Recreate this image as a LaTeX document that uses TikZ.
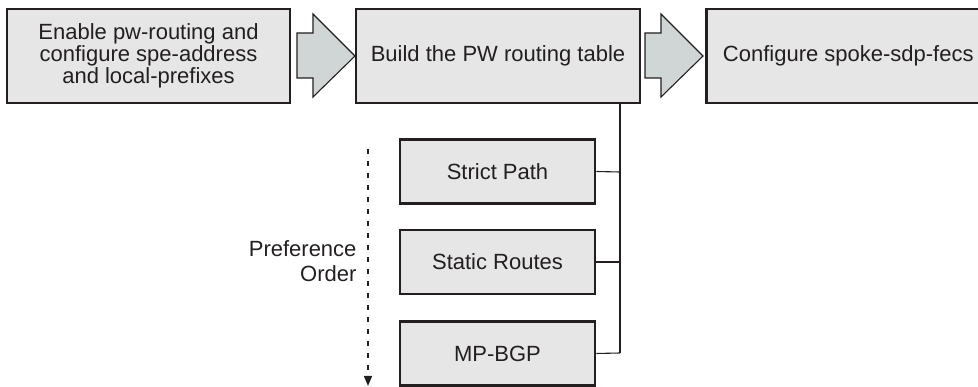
\documentclass[tikz,border=0pt]{standalone}
\usepackage{fontspec}
\setmainfont{Liberation Sans}
\usetikzlibrary{arrows.meta}
\definecolor{boxfill}{HTML}{E6E6E6}
\definecolor{arrfill}{HTML}{D0D6D6}
\definecolor{edge}{HTML}{231F20}
\begin{document}
\begin{tikzpicture}[x=1pt,y=-1pt,
  bigbox/.style={draw=edge,line width=2.6pt,fill=boxfill,align=center,text=edge,font=\fontsize{22}{22}\selectfont},
  smallbox/.style={draw=edge,line width=2.6pt,fill=boxfill,text=edge,font=\fontsize{22}{22}\selectfont},
  blockarrow/.style={draw=edge,line width=1.1pt,fill=arrfill,line join=miter},
  conn/.style={draw=edge,line width=1.1pt}]
\useasboundingbox (0,0) rectangle (978,387);
% main boxes
\node[bigbox,minimum width=283pt,minimum height=94pt] (b1) at (148.5,56) {Enable pw-routing and\\configure spe-address\\and local-prefixes};
\node[bigbox,minimum width=284pt,minimum height=94pt] (b2) at (498,56) {Build the PW routing table};
\node[bigbox,minimum width=284pt,minimum height=94pt,anchor=west] (b3) at (705,56) {Configure spoke-sdp-fecs};
% block arrows
\path[blockarrow] (297,33) -- (313,33) -- (313,14) -- (355,56) -- (313,97) -- (313,78) -- (297,78) -- cycle;
\path[blockarrow] (645,33) -- (661,33) -- (661,14) -- (703,56) -- (661,97) -- (661,78) -- (645,78) -- cycle;
% sub boxes
\node[smallbox,minimum width=195pt,minimum height=64pt] (s1) at (497.5,171.5) {Strict Path};
\node[smallbox,minimum width=195pt,minimum height=64pt] (s2) at (497.5,262) {Static Routes};
\node[smallbox,minimum width=195pt,minimum height=64pt] (s3) at (497.5,353.5) {MP-BGP};
\coordinate (top) at (620,103);
\coordinate (j1) at (620,172);
\coordinate (j2) at (620,262);
\coordinate (j3) at (620,353);
\draw[conn] (top) -- (j3);
\draw[conn] (s1.east) -- (j1);
\draw[conn] (s2.east) -- (j2);
\draw[conn] (s3.east) -- (j3);
% preference order
\coordinate (pa) at (368,149);
\coordinate (pb) at (368,386);
\draw[edge,line width=1.3pt,dash pattern=on 5pt off 7pt,-{Triangle[length=10pt,width=8pt]}] (pa) -- (pb);
\node[anchor=east,align=right,text=edge,font=\fontsize{22}{25}\selectfont] (pref) at (360,261) {Preference\\Order};
\end{tikzpicture}
\end{document}
